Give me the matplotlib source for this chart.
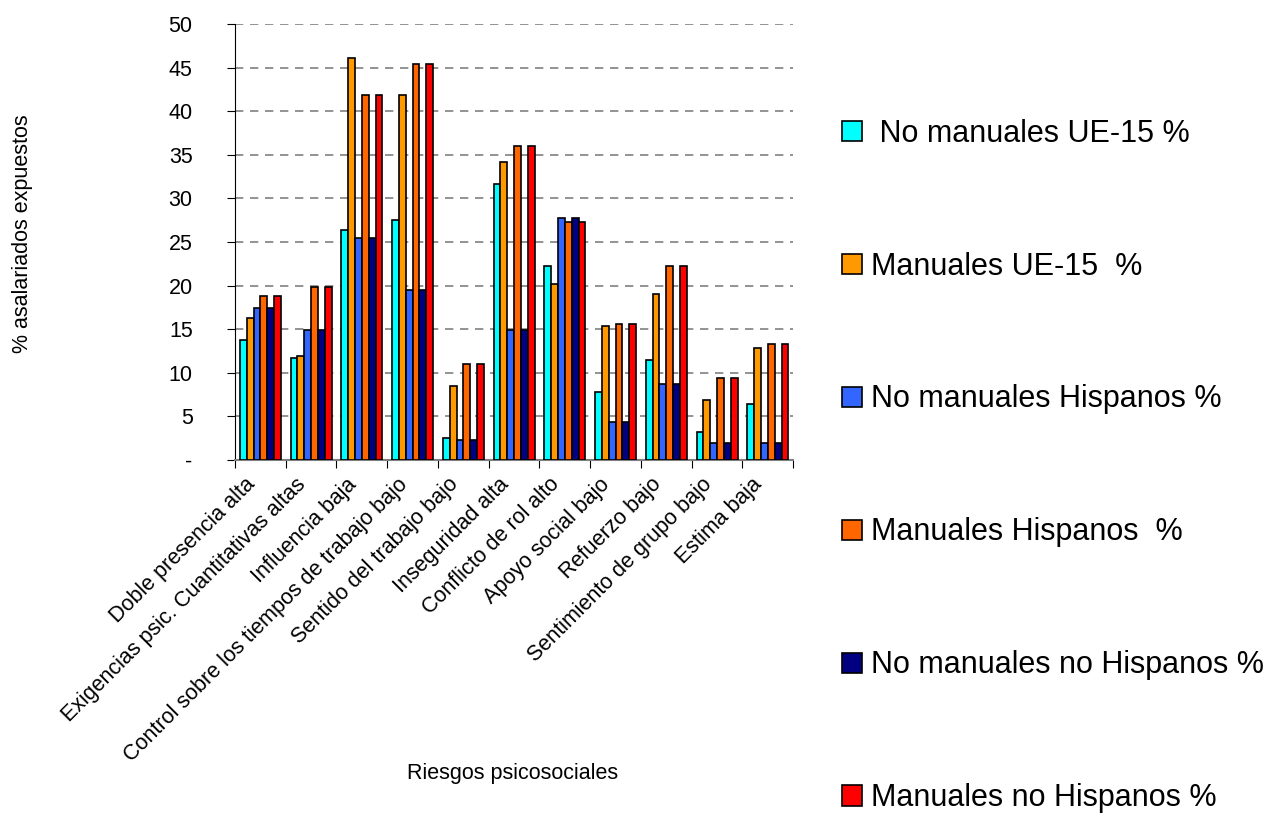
# grouped bar chart: psychosocial risks by worker group

import numpy as np
import matplotlib.pyplot as plt
import matplotlib.transforms as mtransforms

plt.rcParams['font.family'] = ['Liberation Sans', 'DejaVu Sans']

categories = ['Doble presencia alta', 'Exigencias psic. Cuantitativas altas', 'Influencia baja',
              'Control sobre los tiempos de trabajo bajo', 'Sentido del trabajo bajo', 'Inseguridad alta',
              'Conflicto de rol alto', 'Apoyo social bajo', 'Refuerzo bajo', 'Sentimiento de grupo bajo',
              'Estima baja']

series_names = [' No manuales UE-15 %', 'Manuales UE-15  %', 'No manuales Hispanos %',
                'Manuales Hispanos  %', 'No manuales no Hispanos %', 'Manuales no Hispanos %']

no_manuales_ue15 = [13.8, 11.7, 26.4, 27.5, 2.5, 31.7, 22.2, 7.8, 11.5, 3.2, 6.4]
manuales_ue15 = [16.3, 11.9, 46.1, 41.8, 8.5, 34.2, 20.2, 15.4, 19.0, 6.9, 12.8]
no_manuales_hisp = [17.4, 14.9, 25.5, 19.5, 2.3, 14.9, 27.8, 4.4, 8.7, 2.0, 2.0]
manuales_hisp = [18.8, 19.8, 41.8, 45.4, 11.0, 36.0, 27.3, 15.6, 22.2, 9.4, 13.3]
no_manuales_nohisp = [17.4, 14.9, 25.5, 19.5, 2.3, 14.9, 27.8, 4.4, 8.7, 2.0, 2.0]
manuales_nohisp = [18.8, 19.8, 41.8, 45.4, 11.0, 36.0, 27.3, 15.6, 22.2, 9.4, 13.3]

series = [no_manuales_ue15, manuales_ue15, no_manuales_hisp, manuales_hisp, no_manuales_nohisp, manuales_nohisp]
colors = ['#00FFFF', '#FF9900', '#3366FF', '#FF6600', '#000080', '#FF0000']

fig = plt.figure(figsize=(12.73, 8.21), dpi=100)
ax = fig.add_axes([0.1846, 0.4397, 0.4385, 0.5311])

x = np.arange(len(categories))
bar_w = 0.135
offsets = (np.arange(6) - 2.5) * bar_w
handles = []
for i in range(6):
    b = ax.bar(x + offsets[i], series[i], width=bar_w, color=colors[i], edgecolor='black',
               linewidth=1.2, zorder=3, label=series_names[i])
    handles.append(b)

ax.set_xlim(-0.5, len(categories) - 0.5)
ax.set_ylim(0, 50)
ax.set_yticks(np.arange(0, 51, 5))
ax.set_yticklabels(['-'] + [str(v) for v in range(5, 51, 5)], fontsize=15.5)
ax.yaxis.grid(True, linestyle=(0, (5, 4)), color='#808080', linewidth=1.2, zorder=0)

# group boundaries as ticks, labels at group centers
ax.set_xticks(np.arange(len(categories) + 1) - 0.5)
ax.set_xticklabels([])
ax.set_xticks(x, minor=True)
ax.set_xticklabels(categories, minor=True, rotation=45, ha='right', va='top',
                   rotation_mode='anchor', fontsize=15.5)
ax.tick_params(axis='x', which='minor', length=0, pad=10)
ax.tick_params(axis='x', which='major', length=6, color='black')
ax.tick_params(axis='y', length=6, color='black', pad=24.5)

# nudge rotated labels a bit to the left
shift = mtransforms.ScaledTranslation(-0.16, 0, fig.dpi_scale_trans)
for lbl in ax.xaxis.get_minorticklabels():
    lbl.set_transform(lbl.get_transform() + shift)

for s in ['top', 'right']:
    ax.spines[s].set_visible(False)
ax.spines['left'].set_color('black')
ax.spines['bottom'].set_color('#808080')
ax.spines['bottom'].set_linewidth(1.5)

ax.set_ylabel('% asalariados expuestos', fontsize=15.5)
ax.yaxis.set_label_coords(-0.362, 0.52)
fig.text(0.403, 0.058, 'Riesgos psicosociales', fontsize=15.5, ha='center', va='center')

fig.legend(handles=handles, loc='upper left', bbox_to_anchor=(0.652, 0.8705), frameon=False,
           fontsize=22, labelspacing=3.37, handlelength=0.65, handleheight=0.65, handletextpad=0.3,
           borderaxespad=0)

plt.savefig('out.png', dpi=100)
